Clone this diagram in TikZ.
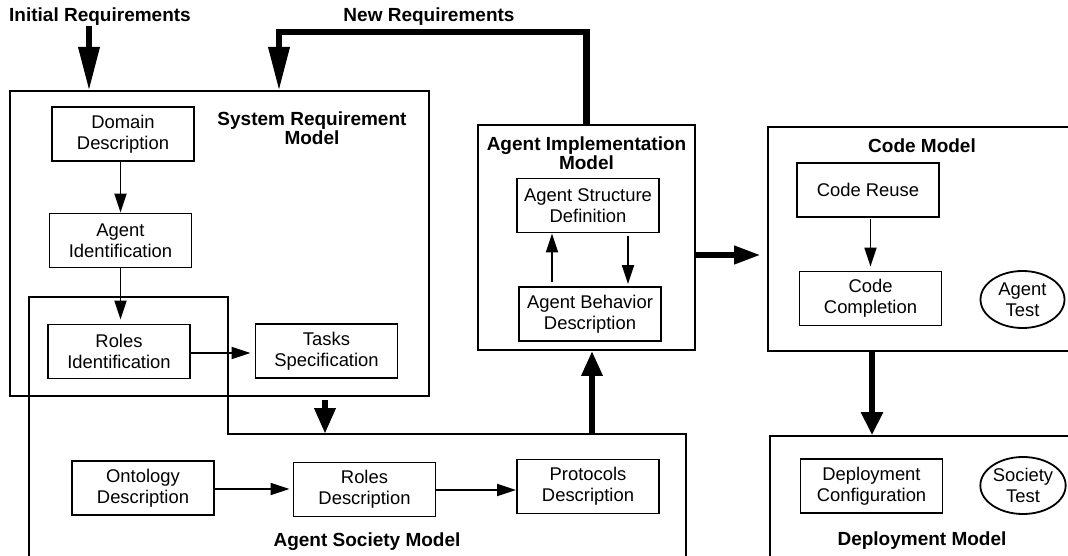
\documentclass[tikz,border=0pt]{standalone}
\usepackage{fontspec}
\setmainfont{Liberation Sans}
\usetikzlibrary{arrows.meta,calc,shapes.geometric}

\begin{document}
\begin{tikzpicture}[x=1pt,y=-1pt,
  txt/.style={font=\fontsize{18.4pt}{21pt}\selectfont},
  ttl/.style={font=\fontsize{19pt}{17pt}\selectfont\bfseries, align=center, inner sep=0pt},
  stepbox/.style={txt, draw, line width=1.8pt, minimum width=142pt, minimum height=54pt,
    inner sep=0pt, align=center},
  frame/.style={draw, line width=1.8pt, inner sep=0pt},
  testell/.style={txt, ellipse, draw, line width=1.8pt, minimum width=84pt,
    minimum height=57pt, inner sep=0pt, align=center},
  flow/.style={line width=1.8pt, -{Triangle[length=19pt,width=12pt]}},
  bigflow/.style={line width=6.5pt, line join=miter, -{Triangle[length=25pt,width=20pt]}},
  reqflow/.style={line width=6.5pt, line join=miter, -{Triangle[length=44pt,width=20pt]}},
]
\useasboundingbox (0,0) rectangle (1068,556);
\clip (0,0) rectangle (1068,556);

% model frames
\node[frame, minimum width=419pt, minimum height=305pt] (srm) at (219.5,243.5) {};
\node[frame, minimum width=217pt, minimum height=225pt] (aim) at (586.5,237.5) {};
\node[frame, minimum width=322pt, minimum height=224pt] (code) at (929,239) {};
\node[frame, minimum width=320pt, minimum height=164pt] (dep) at (930,518) {};
% agent society frame (stepped outline, open at the bottom)
\draw[line width=1.8pt, line join=miter]
  (29,600) -- (29,297) -- (228,297) -- (228,434) -- (686,434) -- (686,600);

% titles
\node[ttl, anchor=base west] (ireq) at (9,22) {Initial Requirements};
\node[ttl, anchor=base] (nreq) at (429,22) {New Requirements};
\node[ttl] (srmt) at (312,128.5) {System Requirement\\Model};
\node[ttl] (aimt) at (586.5,153) {Agent Implementation\\Model};
\node[ttl, anchor=base] (codet) at (922,153) {Code Model};
\node[ttl, anchor=base] (soct) at (367,546) {Agent Society Model};
\node[ttl, anchor=base] (dept) at (922,545) {Deployment Model};

% activities
\node[stepbox] (dom)  at (123,134)     {Domain\\Description};
\node[stepbox] (agid) at (120.5,240.5) {Agent\\Identification};
\node[stepbox] (roid) at (119,351.5)   {Roles\\Identification};
\node[stepbox] (task) at (326.5,351)   {Tasks\\Specification};
\node[stepbox] (onto) at (143,488)     {Ontology\\Description};
\node[stepbox] (rode) at (364.5,489.5) {Roles\\Description};
\node[stepbox] (prot) at (588,486.5)   {Protocols\\Description};
\node[stepbox] (asd)  at (588,205.5)   {Agent Structure\\Definition};
\node[stepbox] (abd)  at (590,314)     {Agent Behavior\\Description};
\node[stepbox] (cre)  at (868,190)     {Code Reuse};
\node[stepbox] (cco)  at (870.5,298.5) {Code\\Completion};
\node[stepbox] (dcf)  at (871.5,486)   {Deployment\\Configuration};
\node[testell] (atest) at (1022.5,299.5) {Agent\\Test};
\node[testell] (stest) at (1023,485.5)   {Society\\Test};

% anchor points on the frames
\coordinate (in1) at (89,91);
\coordinate (in2) at (279,91);
\coordinate (socin) at (325,434);
\coordinate (socout) at (592,434);
\coordinate (ux) at (552,0);
\coordinate (dx) at (628,0);
\coordinate (hy) at (0,255);
\coordinate (cx) at (872,0);

% flows inside the models
\draw[flow] (dom.south -| agid.north) -- (agid.north);
\draw[flow, shorten >=4pt] (agid.south) -- (agid.south |- roid.north);
\draw[flow, shorten >=4pt] ($(roid.east)+(0,1.5)$) -- ($(roid.east -| task.west)+(0,1.5)$);
\draw[flow, shorten >=3pt] ($(onto.east)+(0,1)$) -- ($(onto.east -| rode.west)+(0,1)$);
\draw[flow] ($(rode.east)+(0,0.5)$) -- ($(rode.east -| prot.west)+(0,0.5)$);
\draw[flow] ($(abd.north -| ux)+(0,-4)$) -- (asd.south -| ux);
\draw[flow, shorten >=2pt] ($(asd.south -| dx)+(0,3)$) -- (abd.north -| dx);
\draw[flow, shorten >=4pt] ($(cre.south -| cco.north)+(0,1)$) -- (cco.north);

% flows between the models
\draw[reqflow] (ireq.south -| in1) -- (in1);
\draw[reqflow] (aim.north) -- (aim.north |- 0,32) -| (in2);
\draw[bigflow, -{Triangle[length=26pt,width=20pt]}] ($(srm.south -| socin)+(0,3)$) -- (socin);
\draw[bigflow] (socout) -- (socout |- aim.south);
\draw[bigflow, -{Triangle[length=27pt,width=17pt]}] (aim.east |- hy) -- ($(code.west |- hy)+(-6,0)$);
\draw[bigflow, -{Triangle[length=23pt,width=21pt]}] (code.south -| cx) -- (dep.north -| cx);
\end{tikzpicture}
\end{document}
